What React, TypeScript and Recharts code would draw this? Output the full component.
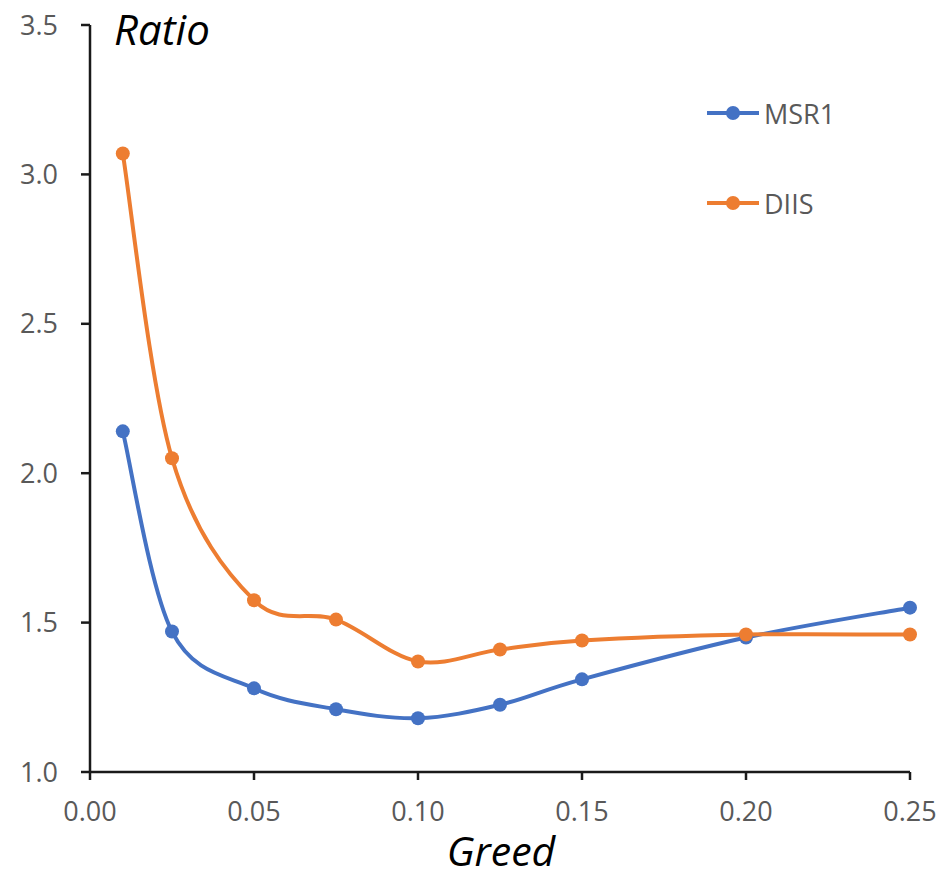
import React from 'react';
import { LineChart, Line, XAxis, YAxis, Legend } from 'recharts';

const greed = [0.01, 0.025, 0.05, 0.075, 0.1, 0.125, 0.15, 0.2, 0.25];
const msr1 = [2.14, 1.47, 1.28, 1.21, 1.18, 1.225, 1.31, 1.45, 1.55];
const diis = [3.07, 2.05, 1.575, 1.51, 1.37, 1.41, 1.44, 1.46, 1.46];
const xTicks = [0, 0.05, 0.1, 0.15, 0.2, 0.25];
const yTicks = [1.0, 1.5, 2.0, 2.5, 3.0, 3.5];

const data = greed.map((g, i) => ({ greed: g, MSR1: msr1[i], DIIS: diis[i] }));

const BLUE = '#4472C4';
const ORANGE = '#ED7D31';
const FONT = '"Open Sans", "Liberation Sans", sans-serif';
const GREY = '#595959';

// Excel-like smoothing (Catmull-Rom style Bezier)
function excelCurve(context: any) {
  let pts: number[][] = [];
  return {
    areaStart() {},
    areaEnd() {},
    lineStart() {
      pts = [];
    },
    point(x: number, y: number) {
      pts.push([+x, +y]);
    },
    lineEnd() {
      const n = pts.length;
      if (n === 0) return;
      context.moveTo(pts[0][0], pts[0][1]);
      if (n === 1) return;
      for (let i = 0; i < n - 1; i++) {
        const p0 = pts[Math.max(i - 1, 0)];
        const p1 = pts[i];
        const p2 = pts[i + 1];
        const p3 = pts[Math.min(i + 2, n - 1)];
        const c1x = p1[0] + (p2[0] - p0[0]) / 6;
        const c1y = p1[1] + (p2[1] - p0[1]) / 6;
        const c2x = p2[0] - (p3[0] - p1[0]) / 6;
        const c2y = p2[1] - (p3[1] - p1[1]) / 6;
        context.bezierCurveTo(c1x, c1y, c2x, c2y, p2[0], p2[1]);
      }
    },
  };
}

const renderLegend = () => {
  const items = [
    { name: 'MSR1', color: BLUE },
    { name: 'DIIS', color: ORANGE },
  ];
  return (
    <div style={{ fontFamily: FONT }}>
      {items.map((it, i) => (
        <div
          key={it.name}
          style={{ display: 'flex', alignItems: 'center', height: 40, marginBottom: i === 0 ? 50 : 0 }}
        >
          <svg width={56} height={20}>
            <line x1={2} y1={10} x2={54} y2={10} stroke={it.color} strokeWidth={4} />
            <circle cx={28} cy={10} r={7} fill={it.color} />
          </svg>
          <span style={{ fontSize: 27, color: GREY, marginLeft: 3 }}>{it.name}</span>
        </div>
      ))}
    </div>
  );
};

export default function App() {
  return (
    <div style={{ position: 'absolute', left: 0, top: 0, background: '#fff' }}>
      <LineChart
        width={946}
        height={880}
        data={data}
        margin={{ top: 25, right: 36, left: 0, bottom: 0 }}
      >
        <XAxis
          dataKey="greed"
          type="number"
          domain={[0, 0.25]}
          ticks={xTicks}
          tickFormatter={(v: number) => v.toFixed(2)}
          height={108}
          tickSize={8}
          tickMargin={22}
          axisLine={{ stroke: '#1a1a1a', strokeWidth: 2.5 }}
          tickLine={{ stroke: '#1a1a1a', strokeWidth: 2.5 }}
          tick={{ fill: GREY, fontSize: 27, fontFamily: FONT }}
          label={{
            content: () => (
              <text
                x={501}
                y={866}
                textAnchor="middle"
                fontFamily={FONT}
                fontStyle="italic"
                fontSize={41}
                fill="#000"
              >
                Greed
              </text>
            ),
          }}
        />
        <YAxis
          type="number"
          domain={[1, 3.5]}
          ticks={yTicks}
          tickFormatter={(v: number) => v.toFixed(1)}
          width={90}
          tickSize={9}
          tickMargin={23}
          axisLine={{ stroke: '#1a1a1a', strokeWidth: 2.5 }}
          tickLine={{ stroke: '#1a1a1a', strokeWidth: 2.5 }}
          tick={{ fill: GREY, fontSize: 27, fontFamily: FONT }}
          label={{
            content: () => (
              <text
                x={114}
                y={45}
                textAnchor="start"
                fontFamily={FONT}
                fontStyle="italic"
                fontSize={42}
                fill="#000"
              >
                Ratio
              </text>
            ),
          }}
        />
        <Legend
          layout="vertical"
          align="center"
          verticalAlign="middle"
          content={renderLegend}
          wrapperStyle={{ left: 705, top: 93, width: 200 }}
        />
        <Line
          dataKey="MSR1"
          type={excelCurve as any}
          stroke={BLUE}
          strokeWidth={4}
          dot={{ r: 7, fill: BLUE, stroke: BLUE, strokeWidth: 0 }}
          activeDot={false}
          isAnimationActive={false}
        />
        <Line
          dataKey="DIIS"
          type={excelCurve as any}
          stroke={ORANGE}
          strokeWidth={4}
          dot={{ r: 7, fill: ORANGE, stroke: ORANGE, strokeWidth: 0 }}
          activeDot={false}
          isAnimationActive={false}
        />
      </LineChart>
    </div>
  );
}
